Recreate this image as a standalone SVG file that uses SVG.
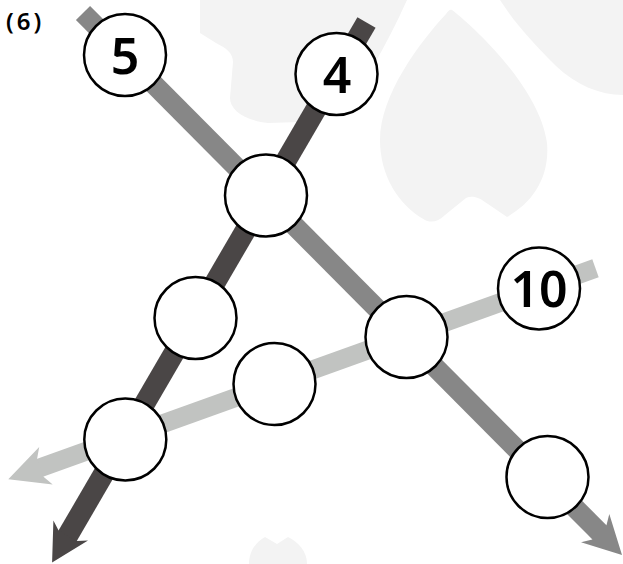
<svg xmlns="http://www.w3.org/2000/svg" width="623" height="564" viewBox="0 0 623 564">
<style>
.wm{fill:#f3f3f3;stroke:none}
.node circle{fill:#ffffff;stroke:#000000;stroke-width:2.5}
.node text{font-family:"Noto Sans","Liberation Sans",Arial,sans-serif;font-size:50px;font-weight:600;text-anchor:middle;fill:#000000}
.title{font-family:"Noto Sans","Liberation Sans",Arial,sans-serif;font-size:24px;font-weight:600;fill:#000000}
.medium{stroke:#878787;fill:#878787}
.dark{stroke:#4a4646;fill:#4a4646}
.light{stroke:#c1c3c1;fill:#c1c3c1}
line{stroke-linecap:butt}
polygon.head{stroke:none}
</style>
<rect width="623" height="564" fill="#ffffff"/>
<g id="watermark">
<path class="wm" d="M200,0 H407 C396,24 386,44 372,68 C356,98 334,118 300,122 L268,123 C244,120 230,110 230,98 L233,62 C233,53 226,48 216,43 L200,33 Z"/>
<path class="wm" d="M452,10 C478,30 540,90 547,143 C550,178 532,203 507,217 L488,204 C479,197 472,195 466,198 L445,215 C438,222 431,223 425,220 C398,205 380,175 380,140 C380,95 420,42 446,14 C448,11 450,9 452,10 Z"/>
<path class="wm" d="M500,0 H623 V95 C600,95 576,85 556,66 C536,46 516,25 500,0 Z"/>
<path class="wm" d="M249,564 C249,551 256,542 265,537 L277,544 L288,537 C298,542 307,551 307,564 Z"/>
</g>
<text class="title" x="6" y="30" letter-spacing="3">(6)</text>
<g id="connectors">
<g id="line-medium" class="medium">
<line x1="83" y1="13" x2="600.8" y2="533.8" stroke-width="20"/>
<polygon class="head" points="622,555 609.3,514 606.44,525.3 592.3,539.44 581,542.3"/>
</g>
<g id="line-dark" class="dark">
<line x1="366.5" y1="22.5" x2="66.7" y2="537.4" stroke-width="21"/>
<polygon class="head" points="52.1,562.5 53.4,520.5 58.6,530.4 76.8,541 88,540.6"/>
</g>
<g id="line-light" class="light">
<line x1="595.5" y1="268.3" x2="38.4" y2="468.4" stroke-width="19"/>
<polygon class="head" points="8.3,479.2 39.2,446.9 37.1,458.8 43.5,476.7 52.7,484.5"/>
</g>
</g>
<g id="node-5" class="node"><circle cx="125" cy="55" r="41"/><text x="125" y="73.5">5</text></g>
<g id="node-4" class="node"><circle cx="336.5" cy="74" r="41"/><text x="337" y="93">4</text></g>
<g id="node-a" class="node"><circle cx="266" cy="195.5" r="41"/></g>
<g id="node-b" class="node"><circle cx="195.5" cy="318" r="41"/></g>
<g id="node-c" class="node"><circle cx="274.5" cy="384" r="41"/></g>
<g id="node-d" class="node"><circle cx="406.5" cy="337" r="41"/></g>
<g id="node-10" class="node"><circle cx="539" cy="288.5" r="41"/><text x="539" y="306.5">10</text></g>
<g id="node-e" class="node"><circle cx="125.3" cy="439.5" r="41"/></g>
<g id="node-f" class="node"><circle cx="547.5" cy="477" r="41"/></g>
</svg>
